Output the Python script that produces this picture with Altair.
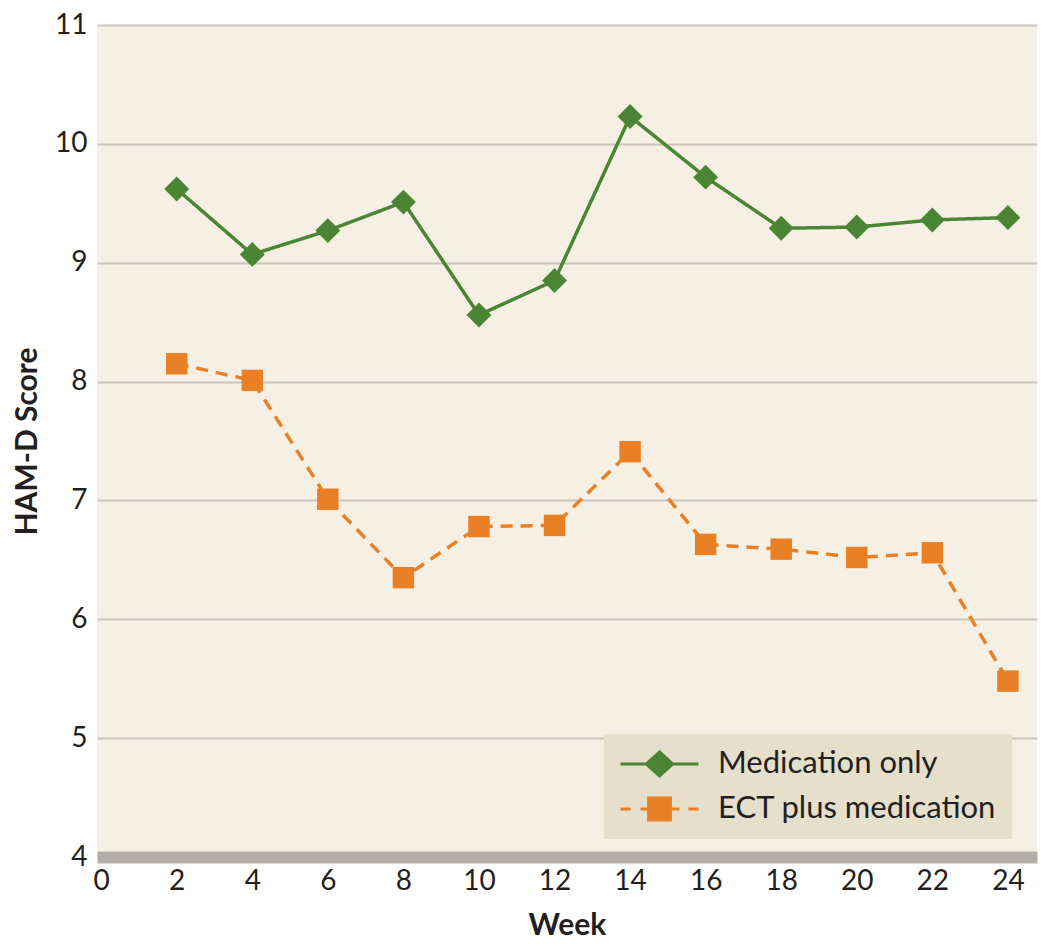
import altair as alt
import pandas as pd

weeks = [2, 4, 6, 8, 10, 12, 14, 16, 18, 20, 22, 24]
medication_only = [9.62, 9.07, 9.27, 9.51, 8.56, 8.85, 10.23, 9.72, 9.29, 9.30, 9.36, 9.38]
ect_plus_medication = [8.15, 8.01, 7.01, 6.35, 6.78, 6.79, 7.41, 6.63, 6.59, 6.52, 6.56, 5.48]
series_names = ["Medication only", "ECT plus medication"]
x_ticks = list(range(0, 25, 2))
y_ticks = list(range(4, 12))

rows = []
for w, v in zip(weeks, medication_only):
    rows.append({"week": w, "score": v, "series": series_names[0]})
for w, v in zip(weeks, ect_plus_medication):
    rows.append({"week": w, "score": v, "series": series_names[1]})
df = pd.DataFrame(rows)

GREEN = "#4A8533"
ORANGE = "#EA8025"
FONT = "Lato"
DASHES = [[1, 0], [12, 8]]

x_enc = alt.X("week:Q", scale=alt.Scale(domain=[-0.11, 24.77], nice=False, zero=False),
              axis=alt.Axis(values=x_ticks, title="Week", grid=False, ticks=False,
                            domainColor="#B4AEA8", domainWidth=12, labelPadding=10,
                            titlePadding=15, zindex=1))
y_enc = alt.Y("score:Q", scale=alt.Scale(domain=[4, 11], nice=False, zero=False),
              axis=alt.Axis(values=y_ticks, format="d", title="HAM-D Score", grid=True, ticks=False,
                            domain=False, gridColor="#C9C4BD", gridWidth=2,
                            labelPadding=10, titlePadding=12))

color_scale = alt.Scale(domain=series_names, range=[GREEN, ORANGE])

line = alt.Chart(df).mark_line(strokeWidth=3.5).encode(
    x=x_enc, y=y_enc,
    color=alt.Color("series:N", scale=color_scale, legend=None),
    strokeDash=alt.StrokeDash("series:N", scale=alt.Scale(domain=series_names, range=DASHES), legend=None),
)

points = alt.Chart(df).mark_point(filled=True, opacity=1).encode(
    x="week:Q", y="score:Q",
    color=alt.Color("series:N", scale=color_scale, legend=None),
    shape=alt.Shape("series:N", scale=alt.Scale(domain=series_names, range=["diamond", "square"]), legend=None),
    size=alt.Size("series:N", scale=alt.Scale(domain=series_names, range=[620, 460]), legend=None),
)

# legend symbols: line + marker (dashed line built from separate segments)
diamond_path = "M-1,0L1,0M0,-0.31L0.34,0L0,0.31L-0.34,0Z"
square_path = ("M-1,0L-0.74,0M-0.49,0L-0.28,0M0.28,0L0.51,0M0.74,0L1,0"
               "M-0.28,-0.28L0.28,-0.28L0.28,0.28L-0.28,0.28Z")

leg = alt.Legend(title=None, orient="none", legendX=507, legendY=709, direction="vertical",
                 fillColor="#E5DFCB", padding=15, clipHeight=30, rowPadding=14,
                 symbolSize=6084, symbolStrokeWidth=3, symbolOpacity=1,
                 labelFont=FONT, labelFontSize=31, labelColor="#231F20", labelOffset=18,
                 labelBaseline="middle", labelLimit=400)

legend_layer = alt.Chart(df).mark_point(filled=True, opacity=0, strokeWidth=3).encode(
    x="week:Q", y="score:Q",
    fill=alt.Fill("series:N", scale=color_scale, legend=leg),
    stroke=alt.Stroke("series:N", scale=color_scale, legend=leg),
    shape=alt.Shape("series:N", scale=alt.Scale(domain=series_names, range=[diamond_path, square_path]), legend=leg),
)

chart = alt.layer(line, points, legend_layer).resolve_scale(
    shape="independent", fill="independent", stroke="independent"
).properties(
    width=940, height=832,
    padding={"left": 89, "top": 17, "right": 5, "bottom": 89},
    autosize=alt.AutoSizeParams(type="none"),
).configure_view(
    fill="#F6EFE3", stroke=None
).configure_axis(
    labelFont=FONT, labelFontSize=28, labelColor="#231F20",
    titleFont=FONT, titleFontSize=30, titleFontWeight="bold", titleColor="#231F20",
)

chart.save("out.html", embed_options={"renderer": "svg", "actions": False})
